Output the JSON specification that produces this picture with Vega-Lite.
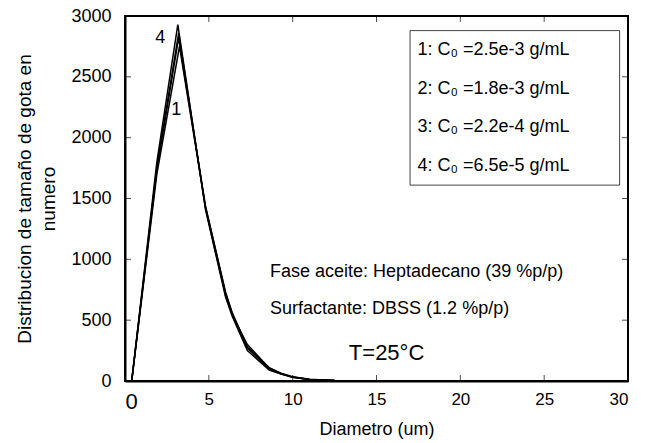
{
  "$schema": "https://vega.github.io/schema/vega-lite/v6.json",
  "width": 503,
  "height": 365,
  "autosize": "none",
  "padding": {"left": 125, "top": 16, "right": 20, "bottom": 62},
  "background": "white",
  "config": {
    "font": "Liberation Sans",
    "view": {"stroke": "black", "strokeWidth": 2},
    "axis": {
      "grid": false,
      "domainColor": "black",
      "domainWidth": 2,
      "ticks": false,
      "labelColor": "black",
      "titleColor": "black",
      "labelFont": "Liberation Sans",
      "titleFont": "Liberation Sans",
      "titleFontWeight": "normal",
      "format": "d"
    }
  },
  "datasets": {
    "curves": [
      {"s": "1", "d": 0.4, "n": 0}, {"s": "1", "d": 1.9, "n": 1700}, {"s": "1", "d": 3.25, "n": 2750}, {"s": "1", "d": 4.8, "n": 1430}, {"s": "1", "d": 6.0, "n": 730}, {"s": "1", "d": 6.4, "n": 560}, {"s": "1", "d": 7.3, "n": 280}, {"s": "1", "d": 8.6, "n": 110}, {"s": "1", "d": 9.3, "n": 65}, {"s": "1", "d": 10, "n": 35}, {"s": "1", "d": 11, "n": 15}, {"s": "1", "d": 12.5, "n": 5}, {"s": "1", "d": 14, "n": 1}, {"s": "1", "d": 16, "n": 0},
      {"s": "2", "d": 0.4, "n": 0}, {"s": "2", "d": 1.9, "n": 1740}, {"s": "2", "d": 3.2, "n": 2820}, {"s": "2", "d": 4.8, "n": 1440}, {"s": "2", "d": 6.0, "n": 720}, {"s": "2", "d": 6.4, "n": 550}, {"s": "2", "d": 7.3, "n": 270}, {"s": "2", "d": 8.6, "n": 100}, {"s": "2", "d": 9.3, "n": 60}, {"s": "2", "d": 10, "n": 32}, {"s": "2", "d": 11, "n": 13}, {"s": "2", "d": 12.5, "n": 4}, {"s": "2", "d": 14, "n": 1}, {"s": "2", "d": 16, "n": 0},
      {"s": "3", "d": 0.4, "n": 0}, {"s": "3", "d": 1.9, "n": 1760}, {"s": "3", "d": 3.2, "n": 2860}, {"s": "3", "d": 4.8, "n": 1420}, {"s": "3", "d": 6.0, "n": 700}, {"s": "3", "d": 6.4, "n": 540}, {"s": "3", "d": 7.3, "n": 300}, {"s": "3", "d": 8.6, "n": 105}, {"s": "3", "d": 9.3, "n": 62}, {"s": "3", "d": 10, "n": 30}, {"s": "3", "d": 11, "n": 12}, {"s": "3", "d": 12.5, "n": 4}, {"s": "3", "d": 14, "n": 1}, {"s": "3", "d": 16, "n": 0},
      {"s": "4", "d": 0.4, "n": 0}, {"s": "4", "d": 1.9, "n": 1800}, {"s": "4", "d": 3.15, "n": 2930}, {"s": "4", "d": 4.8, "n": 1410}, {"s": "4", "d": 6.0, "n": 690}, {"s": "4", "d": 6.4, "n": 530}, {"s": "4", "d": 7.3, "n": 250}, {"s": "4", "d": 8.6, "n": 90}, {"s": "4", "d": 9.3, "n": 58}, {"s": "4", "d": 10, "n": 30}, {"s": "4", "d": 11, "n": 12}, {"s": "4", "d": 12.5, "n": 4}, {"s": "4", "d": 14, "n": 1}, {"s": "4", "d": 16, "n": 0}
    ],
    "xticks": [{"v": 5}, {"v": 10}, {"v": 15}, {"v": 20}, {"v": 25}],
    "yticks": [{"v": 500}, {"v": 1000}, {"v": 1500}, {"v": 2000}, {"v": 2500}],
    "box": [{"x1": 17.0, "x2": 29.5, "y1": 1610, "y2": 2880}],
    "legend": [
      {"t": "1: C₀ =2.5e-3 g/mL", "x": 17.45, "y": 2720},
      {"t": "2: C₀ =1.8e-3 g/mL", "x": 17.45, "y": 2400},
      {"t": "3: C₀ =2.2e-4 g/mL", "x": 17.45, "y": 2085},
      {"t": "4: C₀ =6.5e-5 g/mL", "x": 17.45, "y": 1770}
    ],
    "notes": [
      {"t": "Fase aceite: Heptadecano (39 %p/p)", "x": 8.65, "y": 895},
      {"t": "Surfactante: DBSS (1.2 %p/p)", "x": 8.65, "y": 595}
    ],
    "temp": [{"t": "T=25°C", "x": 15.6, "y": 230}],
    "labels": [
      {"t": "4", "x": 2.1, "y": 2820},
      {"t": "1", "x": 3.05, "y": 2230}
    ]
  },
  "layer": [
    {
      "data": {"name": "curves"},
      "mark": {"type": "line", "color": "black", "strokeWidth": 1.5},
      "encoding": {
        "x": {"field": "d", "type": "quantitative", "scale": {"domain": [0, 30], "nice": false},
              "axis": {"orient": "bottom", "title": "Diametro (um)", "values": [0, 5, 10, 15, 20, 25, 30],
                       "labelFontSize": {"condition": {"test": "datum.value == 0", "value": 22}, "value": 17},
                       "labelPadding": 10, "titleFontSize": 18, "titlePadding": 8}},
        "y": {"field": "n", "type": "quantitative", "scale": {"domain": [0, 3000], "nice": false},
              "axis": {"orient": "left", "title": ["Distribucion de tamaño de gota en", "numero"],
                       "values": [0, 500, 1000, 1500, 2000, 2500, 3000], "labelFontSize": 18, "labelPadding": 14,
                       "titleFontSize": 19, "titlePadding": 12, "titleLineHeight": 24}},
        "detail": {"field": "s"}
      }
    },
    {
      "data": {"name": "xticks"},
      "mark": {"type": "tick", "orient": "vertical", "color": "black", "thickness": 1, "size": 12, "clip": true},
      "encoding": {
        "x": {"field": "v", "type": "quantitative"},
        "y": {"datum": 0, "type": "quantitative"}
      }
    },
    {
      "data": {"name": "xticks"},
      "mark": {"type": "tick", "orient": "vertical", "color": "black", "thickness": 1, "size": 12, "clip": true},
      "encoding": {
        "x": {"field": "v", "type": "quantitative"},
        "y": {"datum": 3000, "type": "quantitative"}
      }
    },
    {
      "data": {"name": "yticks"},
      "mark": {"type": "tick", "orient": "horizontal", "color": "black", "thickness": 1, "size": 12, "clip": true},
      "encoding": {
        "y": {"field": "v", "type": "quantitative"},
        "x": {"datum": 0, "type": "quantitative"}
      }
    },
    {
      "data": {"name": "yticks"},
      "mark": {"type": "tick", "orient": "horizontal", "color": "black", "thickness": 1, "size": 12, "clip": true},
      "encoding": {
        "y": {"field": "v", "type": "quantitative"},
        "x": {"datum": 30, "type": "quantitative"}
      }
    },
    {
      "data": {"name": "box"},
      "mark": {"type": "rect", "fill": null, "stroke": "#444444", "strokeWidth": 1},
      "encoding": {
        "x": {"field": "x1", "type": "quantitative"},
        "x2": {"field": "x2"},
        "y": {"field": "y1", "type": "quantitative"},
        "y2": {"field": "y2"}
      }
    },
    {
      "data": {"name": "legend"},
      "mark": {"type": "text", "align": "left", "baseline": "middle", "fontSize": 18, "color": "black"},
      "encoding": {
        "x": {"field": "x", "type": "quantitative"},
        "y": {"field": "y", "type": "quantitative"},
        "text": {"field": "t"}
      }
    },
    {
      "data": {"name": "notes"},
      "mark": {"type": "text", "align": "left", "baseline": "middle", "fontSize": 18, "color": "black"},
      "encoding": {
        "x": {"field": "x", "type": "quantitative"},
        "y": {"field": "y", "type": "quantitative"},
        "text": {"field": "t"}
      }
    },
    {
      "data": {"name": "temp"},
      "mark": {"type": "text", "align": "center", "baseline": "middle", "fontSize": 22, "color": "black"},
      "encoding": {
        "x": {"field": "x", "type": "quantitative"},
        "y": {"field": "y", "type": "quantitative"},
        "text": {"field": "t"}
      }
    },
    {
      "data": {"name": "labels"},
      "mark": {"type": "text", "align": "center", "baseline": "middle", "fontSize": 18, "color": "black"},
      "encoding": {
        "x": {"field": "x", "type": "quantitative"},
        "y": {"field": "y", "type": "quantitative"},
        "text": {"field": "t"}
      }
    }
  ]
}
